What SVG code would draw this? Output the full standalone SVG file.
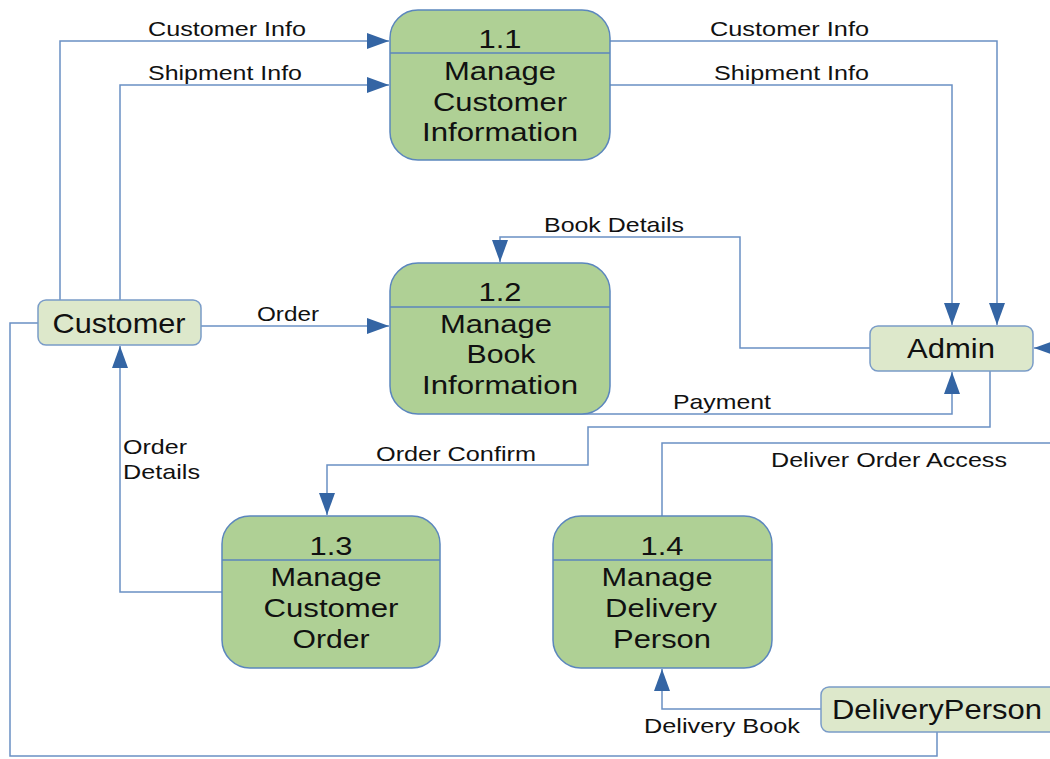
<svg xmlns="http://www.w3.org/2000/svg" width="1050" height="759" viewBox="0 0 1050 759">
<defs>
<style>
.proc{fill:#afd095;stroke:#5b86bd;stroke-width:1.5}
.div{stroke:#5b86bd;stroke-width:1.5}
.ent{fill:#dde8cb;stroke:#7a9cc8;stroke-width:1.5}
.ln{fill:none;stroke:#6a90c4;stroke-width:1.5}
.lbl{font-family:"Liberation Sans",Arial,sans-serif;font-size:21px;fill:#111}
.pt{font-family:"Liberation Sans",Arial,sans-serif;font-size:26px;fill:#111;text-anchor:middle}
.et{font-family:"Liberation Sans",Arial,sans-serif;font-size:28px;fill:#111;text-anchor:middle}
</style>
<marker id="ah" markerUnits="userSpaceOnUse" markerWidth="24" markerHeight="18" refX="22" refY="8" orient="auto">
<path d="M0,0 L22,8 L0,16 z" fill="#3465a4"/>
</marker>
</defs>
<rect width="1050" height="759" fill="#ffffff"/>

<g id="connectors">
<path class="ln" d="M60,300 V41 H389" marker-end="url(#ah)"/>
<path class="ln" d="M120,300 V85 H389" marker-end="url(#ah)"/>
<path class="ln" d="M610,41 H997 V325" marker-end="url(#ah)"/>
<path class="ln" d="M610,85 H952 V325" marker-end="url(#ah)"/>
<path class="ln" d="M201,326 H389" marker-end="url(#ah)"/>
<path class="ln" d="M870,348 H740 V237 H500 V262" marker-end="url(#ah)"/>
<path class="ln" d="M500,414 H952 V372" marker-end="url(#ah)"/>
<path class="ln" d="M990,371 V427 H588 V465 H327 V515" marker-end="url(#ah)"/>
<path class="ln" d="M222,592 H120 V346" marker-end="url(#ah)"/>
<path class="ln" d="M662,516 V443 H1060"/>
<path class="ln" d="M1060,348 H1034" marker-end="url(#ah)"/>
<path class="ln" d="M821,709 H662 V669" marker-end="url(#ah)"/>
<path class="ln" d="M937,732 V756 H10 V323 H38"/>
<text class="lbl" x="148" y="36" textLength="158" lengthAdjust="spacingAndGlyphs">Customer Info</text>
<text class="lbl" x="148" y="80" textLength="154" lengthAdjust="spacingAndGlyphs">Shipment Info</text>
<text class="lbl" x="710" y="36" textLength="159" lengthAdjust="spacingAndGlyphs">Customer Info</text>
<text class="lbl" x="714" y="80" textLength="155" lengthAdjust="spacingAndGlyphs">Shipment Info</text>
<text class="lbl" x="257" y="321" textLength="62" lengthAdjust="spacingAndGlyphs">Order</text>
<text class="lbl" x="544" y="232" textLength="140" lengthAdjust="spacingAndGlyphs">Book Details</text>
<text class="lbl" x="673" y="409" textLength="98" lengthAdjust="spacingAndGlyphs">Payment</text>
<text class="lbl" x="376" y="461" textLength="160" lengthAdjust="spacingAndGlyphs">Order Confirm</text>
<text class="lbl" x="123" y="454" textLength="64" lengthAdjust="spacingAndGlyphs">Order</text>
<text class="lbl" x="123" y="479" textLength="77" lengthAdjust="spacingAndGlyphs">Details</text>
<text class="lbl" x="771" y="467" textLength="236" lengthAdjust="spacingAndGlyphs">Deliver Order Access</text>
<text class="lbl" x="644" y="733" textLength="156" lengthAdjust="spacingAndGlyphs">Delivery Book</text>
</g>

<g id="p11">
<rect class="proc" x="390" y="10" width="220" height="150" rx="28"/>
<line class="div" x1="390" y1="53" x2="610" y2="53"/>
<text class="pt" x="500" y="48" textLength="43" lengthAdjust="spacingAndGlyphs">1.1</text>
<text class="pt" x="500" y="80" textLength="112" lengthAdjust="spacingAndGlyphs">Manage</text>
<text class="pt" x="500" y="111" textLength="134" lengthAdjust="spacingAndGlyphs">Customer</text>
<text class="pt" x="500" y="141" textLength="156" lengthAdjust="spacingAndGlyphs">Information</text>
</g>

<g id="p12">
<rect class="proc" x="390" y="263" width="220" height="151" rx="28"/>
<line class="div" x1="390" y1="307" x2="610" y2="307"/>
<text class="pt" x="500" y="301" textLength="43" lengthAdjust="spacingAndGlyphs">1.2</text>
<text class="pt" x="496" y="333" textLength="112" lengthAdjust="spacingAndGlyphs">Manage</text>
<text class="pt" x="501" y="363" textLength="69" lengthAdjust="spacingAndGlyphs">Book</text>
<text class="pt" x="500" y="394" textLength="156" lengthAdjust="spacingAndGlyphs">Information</text>
</g>

<g id="p13">
<rect class="proc" x="222" y="516" width="218" height="152" rx="28"/>
<line class="div" x1="222" y1="560" x2="440" y2="560"/>
<text class="pt" x="331" y="555" textLength="43" lengthAdjust="spacingAndGlyphs">1.3</text>
<text class="pt" x="326" y="586" textLength="111" lengthAdjust="spacingAndGlyphs">Manage</text>
<text class="pt" x="331" y="617" textLength="135" lengthAdjust="spacingAndGlyphs">Customer</text>
<text class="pt" x="331" y="648" textLength="77" lengthAdjust="spacingAndGlyphs">Order</text>
</g>

<g id="p14">
<rect class="proc" x="553" y="516" width="219" height="152" rx="28"/>
<line class="div" x1="553" y1="560" x2="772" y2="560"/>
<text class="pt" x="662" y="555" textLength="43" lengthAdjust="spacingAndGlyphs">1.4</text>
<text class="pt" x="657" y="586" textLength="111" lengthAdjust="spacingAndGlyphs">Manage</text>
<text class="pt" x="661" y="617" textLength="112" lengthAdjust="spacingAndGlyphs">Delivery</text>
<text class="pt" x="662" y="648" textLength="98" lengthAdjust="spacingAndGlyphs">Person</text>
</g>

<g id="customer">
<rect class="ent" x="38" y="300" width="163" height="45" rx="8"/>
<text class="et" x="119" y="333" textLength="133" lengthAdjust="spacingAndGlyphs">Customer</text>
</g>

<g id="admin">
<rect class="ent" x="870" y="326" width="163" height="45" rx="8"/>
<text class="et" x="951" y="358" textLength="88" lengthAdjust="spacingAndGlyphs">Admin</text>
</g>

<g id="deliveryperson">
<rect class="ent" x="821" y="687" width="240" height="45" rx="8"/>
<text class="et" x="937" y="719" textLength="210" lengthAdjust="spacingAndGlyphs">DeliveryPerson</text>
</g>
</svg>
